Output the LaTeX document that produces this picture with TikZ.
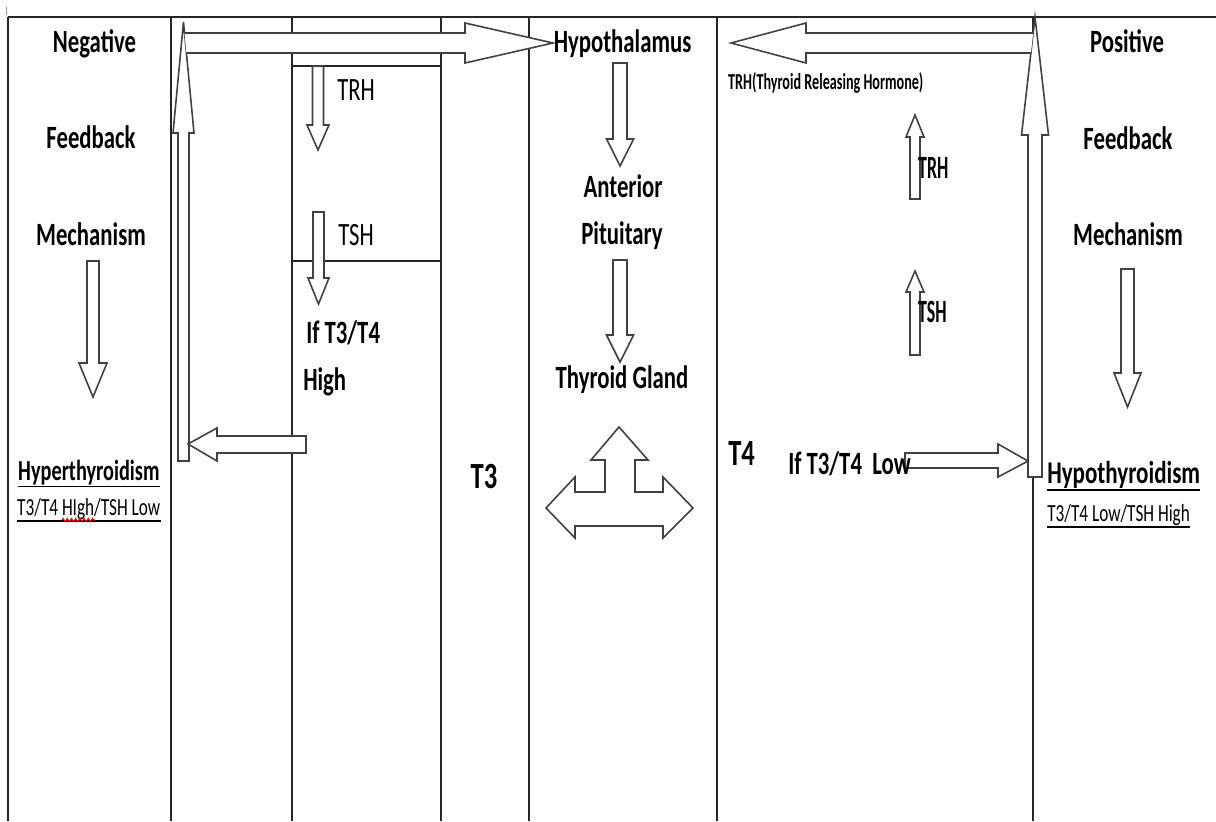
\documentclass[tikz,border=0pt]{standalone}
\usepackage{fontspec}
\setmainfont{Carlito}
\usetikzlibrary{decorations.pathmorphing}

\begin{document}
\begin{tikzpicture}[x=0.02cm, y=-0.02cm]
    \useasboundingbox (0,0) rectangle (1216,821);

    % Styles for grid, block arrows and texts
    \tikzset{
        c_grid/.style={color=black!85, line width=0.8pt},
        c_arrow/.style={draw=black!75, fill=white, line width=0.9pt, line join=miter},
        t_main/.style={font=\fontsize{18.5}{20}\selectfont\bfseries, xscale=0.7, transform shape, inner sep=0pt},
        t_reg/.style={font=\fontsize{18.5}{20}\selectfont, xscale=0.7, transform shape, inner sep=0pt},
        t_big/.style={font=\fontsize{21}{23}\selectfont\bfseries, xscale=0.72, transform shape, inner sep=0pt},
        t_tall/.style={font=\fontsize{18.5}{20}\selectfont\bfseries, xscale=0.55, transform shape, inner sep=0pt},
        t_tiny/.style={font=\fontsize{13}{14}\selectfont\bfseries, xscale=0.62, transform shape, inner sep=0pt},
        t_dis/.style={font=\fontsize{16.5}{18}\selectfont\bfseries, xscale=0.7, transform shape, inner sep=0pt},
        t_note/.style={font=\fontsize{14}{15}\selectfont, xscale=0.7, transform shape, inner sep=0pt}
    }

    % Table lines
    \draw[black!40, line width=0.4pt] (6,7) -- (6,15);
    \draw[c_grid] (8,17) -- (1216,17);
    \foreach \x in {8,171,292,441,529,717,1033} {
        \draw[c_grid] (\x,17) -- (\x,821);
    }
    \draw[c_grid] (292,66) -- (441,66);
    \draw[c_grid] (292,261) -- (441,261);

    % Vertical block arrows: centre x / shaft end / head base / tip / shaft half / head half
    \foreach \cx/\ya/\yb/\yc/\sw/\hw in {
        93/261/363/397/6/14,
        318/66/125/150/5.5/11,
        318.5/212/278/304/5.5/10.5,
        620/63/139/166/7/13.5,
        620/260/335/362/7/13.5,
        1127.5/269/373/407/6.5/13.5,
        915/199/137/115/5/9,
        915/355/292/271/5/9,
        183.5/461/133/22/5.5/10.5,
        1035/477/135/17/7/13.5} {
        \draw[c_arrow] (\cx-\sw,\ya) -- (\cx+\sw,\ya) -- (\cx+\sw,\yb) -- (\cx+\hw,\yb)
            -- (\cx,\yc) -- (\cx-\hw,\yb) -- (\cx-\sw,\yb) -- cycle;
    }

    % Horizontal block arrows
    \draw[c_arrow] (184.5,33) -- (465,33) -- (465,23) -- (553,43) -- (465,63) -- (465,53) -- (186.4,53);
    \draw[c_arrow] (1033.2,33) -- (806,33) -- (806,23) -- (731,43) -- (806,63) -- (806,53) -- (1030.9,53);
    \draw[c_arrow] (306,436) -- (217,436) -- (217,428) -- (188,444) -- (217,461) -- (217,453) -- (306,453) -- cycle;
    \draw[c_arrow] (905,453) -- (998,453) -- (998,444) -- (1028,461) -- (998,477) -- (998,468) -- (905,468) -- cycle;

    % Three-way arrow under the thyroid gland
    \draw[c_arrow] (546,508) -- (575,477) -- (575,492) -- (605,492) -- (605,460) -- (591,460)
        -- (619,427) -- (648,460) -- (635,460) -- (635,492) -- (663,492) -- (663,477)
        -- (693,508) -- (663,538) -- (663,526) -- (575,526) -- (575,538) -- cycle;

    % Negative feedback column
    \node[t_main, anchor=base] (neg) at (94.5,53) {Negative};
    \node[t_main, anchor=base] (negfb) at (91,148) {Feedback};
    \node[t_main, anchor=base] (negmech) at (91,245) {Mechanism};
    \node[t_dis, anchor=base west] (hyper) at (18,480) {Hyperthyroidism};
    \node[t_note, anchor=base west] (hypernote) at (17,515) {T3/T4 HIgh/TSH Low};
    \draw[line width=0.9pt] ([yshift=-0.8pt]hyper.south west) -- ([yshift=-0.8pt]hyper.south east);
    \draw[line width=0.9pt] ([yshift=-0.8pt]hypernote.south west) -- ([yshift=-0.8pt]hypernote.south east);
    \draw[red, line width=0.6pt, decorate, decoration={zigzag, amplitude=0.9pt, segment length=2.4pt}]
        (62,520) -- (95,520);

    % Hormones when T3/T4 is high
    \node[t_reg, anchor=base west] (trhl) at (337,100) {TRH};
    \node[t_reg, anchor=base west] (tshl) at (338,245) {TSH};
    \node[t_main, anchor=base west] (ifhigh) at (306,343) {If T3/T4};
    \node[t_main, anchor=base west] (high) at (303,390) {High};
    \node[t_big, anchor=base] (tthree) at (484,488) {T3};

    % Centre chain
    \node[t_main, anchor=base] (hypo) at (622.5,53) {Hypothalamus};
    \node[t_main, anchor=base] (ant) at (623,197) {Anterior};
    \node[t_main, anchor=base] (pit) at (622,244) {Pituitary};
    \node[t_main, anchor=base] (gland) at (622,388) {Thyroid Gland};

    % Hormones when T3/T4 is low
    \node[t_tiny, anchor=base west] (trhfull) at (728,90) {TRH(Thyroid Releasing Hormone)};
    \node[t_tall, anchor=base west] (trhr) at (918,178) {TRH};
    \node[t_tall, anchor=base west] (tshr) at (918,322) {TSH};
    \node[t_big, anchor=base west] (tfour) at (728,465) {T4};
    \node[t_main, anchor=base west] (iflow) at (788,474) {If T3/T4\ \ Low};

    % Positive feedback column
    \node[t_main, anchor=base] (pos) at (1127,53) {Positive};
    \node[t_main, anchor=base] (posfb) at (1128,149) {Feedback};
    \node[t_main, anchor=base] (posmech) at (1128,245) {Mechanism};
    \node[t_dis, font=\fontsize{18}{20}\selectfont\bfseries, xscale=1.04, anchor=base west] (hypot) at (1047,483) {Hypothyroidism};
    \node[t_note, anchor=base west] (hypotnote) at (1047,521) {T3/T4 Low/TSH High};
    \draw[line width=0.9pt] ([yshift=-0.8pt]hypot.south west) -- ([yshift=-0.8pt]hypot.south east);
    \draw[line width=0.9pt] ([yshift=-0.8pt]hypotnote.south west) -- ([yshift=-0.8pt]hypotnote.south east);
\end{tikzpicture}
\end{document}
